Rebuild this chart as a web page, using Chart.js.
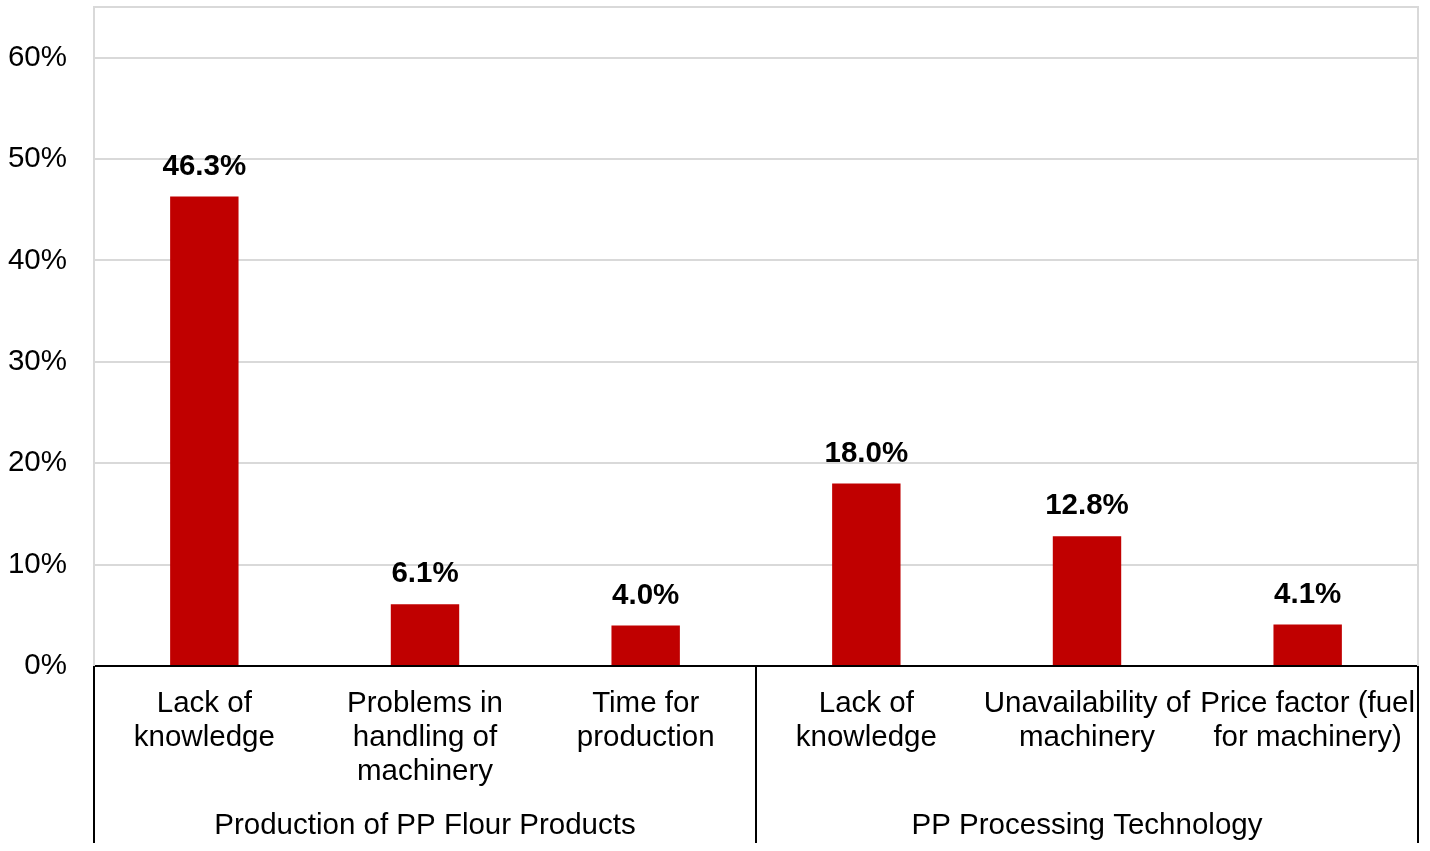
<!DOCTYPE html>
<html>
<head>
<meta charset="utf-8">
<script src="https://cdn.jsdelivr.net/npm/chart.js@4/dist/chart.umd.min.js"></script>
<style>
  html, body { margin: 0; padding: 0; background: #fff; }
  #wrap { width: 1430px; height: 851px; }
</style>
</head>
<body>
<div id="wrap"><canvas id="barChart"></canvas></div>
<script>
// chart data
const categories = [
    ["Lack of", "knowledge"],
    ["Problems in", "handling of", "machinery"],
    ["Time for", "production"],
    ["Lack of", "knowledge"],
    ["Unavailability of", "machinery"],
    ["Price factor (fuel", "for machinery)"]
];
const values = [46.3, 6.1, 4.0, 18.0, 12.8, 4.1];
const groupNames = ["Production of PP Flour Products", "PP Processing Technology"];
const groupOf = [0, 0, 0, 1, 1, 1];
const yTicks = [0, 10, 20, 30, 40, 50, 60];

const FONT = "'Liberation Sans', Arial, sans-serif";
const GRID = "#d9d9d9";

// value labels above bars, frame, group row below the axis
const extras = {
    id: "extras",
    beforeDatasetsDraw(chart){
        const a = chart.chartArea, c = chart.ctx;
        c.save();
        c.strokeStyle = GRID;
        c.lineWidth = 2;
        c.beginPath();
        c.moveTo(a.left, a.bottom);
        c.lineTo(a.left, a.top);
        c.lineTo(a.right, a.top);
        c.lineTo(a.right, a.bottom);
        c.stroke();
        c.restore();
    },
    afterDraw(chart){
        const a = chart.chartArea, c = chart.ctx, x = chart.scales.x;
        const meta = chart.getDatasetMeta(0);
        c.save();
        c.fillStyle = "#000";
        c.textAlign = "center";
        c.textBaseline = "middle";
        c.font = "bold 29.5px " + FONT;
        meta.data.forEach((bar, i) => {
            c.fillText(values[i].toFixed(1) + "%", bar.x, bar.y - 30);
        });

        // separators below axis
        const bottom = chart.height - 8;
        const step = x.getPixelForValue(1) - x.getPixelForValue(0);
        const edges = [];
        groupOf.forEach((g, i) => {
            if(i === 0 || groupOf[i - 1] !== g) edges.push(x.getPixelForValue(i) - step / 2);
        });
        edges.push(x.getPixelForValue(groupOf.length - 1) + step / 2);
        c.strokeStyle = "#000";
        c.lineWidth = 2;
        edges.forEach(px => {
            c.beginPath();
            c.moveTo(px, a.bottom);
            c.lineTo(px, bottom);
            c.stroke();
        });

        // group names
        c.font = "29.5px " + FONT;
        groupNames.forEach((name, g) => {
            const idx = groupOf.map((v, i) => v === g ? i : -1).filter(i => i >= 0);
            const cx = (x.getPixelForValue(idx[0]) + x.getPixelForValue(idx[idx.length - 1])) / 2;
            c.fillText(name, cx, a.bottom + 160);
        });
        c.restore();
    }
};

function noPad(scale){
    scale.paddingTop = 0;
    scale.paddingBottom = 0;
    scale.paddingLeft = 0;
    scale.paddingRight = 0;
}

function createBarChart(){

    const canvas = document.getElementById("barChart");

    if(!canvas) return;

    new Chart(canvas, {

        type: "bar",

        data: {
            labels: categories,
            datasets: [{
                data: values,
                backgroundColor: "#C00000",
                borderWidth: 0,
                categoryPercentage: 1,
                barPercentage: 0.31
            }]
        },

        options: {
            responsive: true,
            maintainAspectRatio: false,
            animation: false,
            devicePixelRatio: 1,
            layout: {
                autoPadding: false,
                padding: { top: 7, right: 12, left: 0, bottom: 0 }
            },
            plugins: {
                legend: { display: false },
                tooltip: { enabled: false }
            },
            scales: {
                x: {
                    grid: { display: false, drawTicks: false },
                    border: { display: true, color: "#000", width: 2 },
                    ticks: {
                        color: "#000",
                        maxRotation: 0,
                        autoSkip: false,
                        padding: 21,
                        font: { family: FONT, size: 29.5, lineHeight: 1.15 }
                    },
                    afterFit(scale){ scale.height = 185; noPad(scale); }
                },
                y: {
                    min: 0,
                    max: 65,
                    grid: {
                        color: ctx => ctx.tick && ctx.tick.value === 0 ? "#000" : GRID,
                        lineWidth: 2,
                        drawTicks: false
                    },
                    border: { display: true, color: GRID, width: 2 },
                    afterBuildTicks(scale){
                        scale.ticks = yTicks.map(v => ({ value: v }));
                    },
                    ticks: {
                        color: "#000",
                        padding: 27,
                        font: { family: FONT, size: 29.5 },
                        callback: v => v + "%"
                    },
                    afterFit(scale){ scale.width = 94; noPad(scale); }
                }
            }
        },

        plugins: [extras]

    });

}

createBarChart();
</script>
</body>
</html>
